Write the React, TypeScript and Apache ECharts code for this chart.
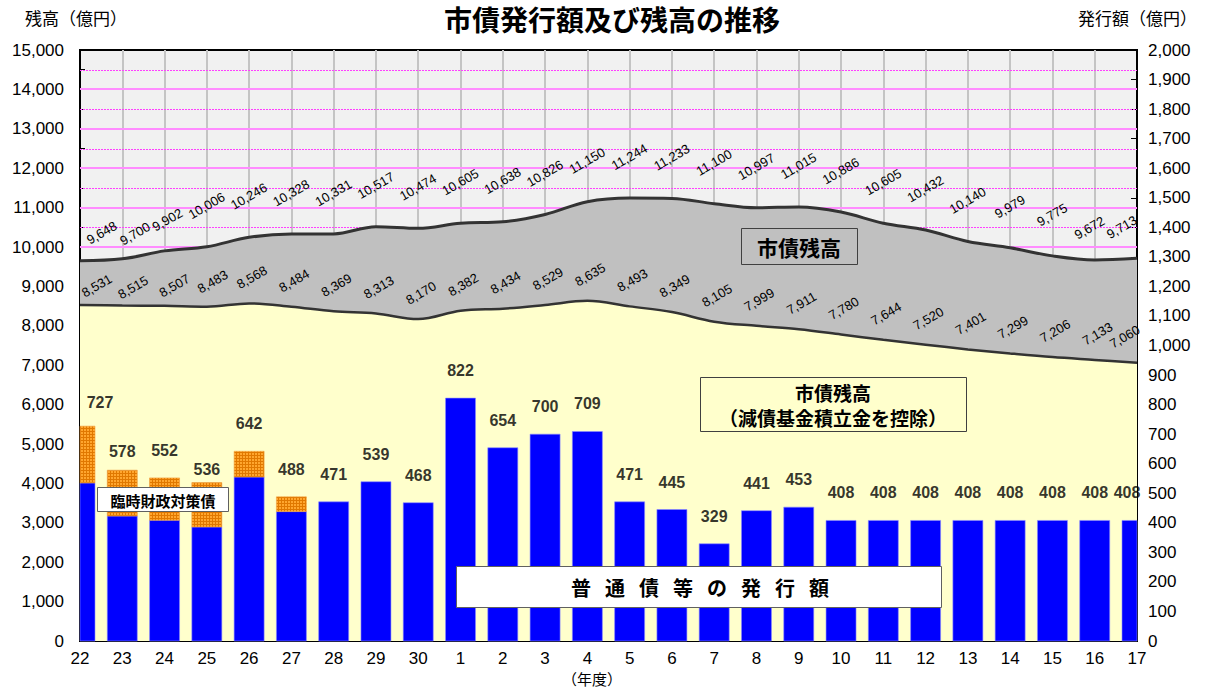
import React, { useEffect, useRef } from "react";
import * as echarts from "echarts";

const years = ["22", "23", "24", "25", "26", "27", "28", "29", "30", "1", "2", "3", "4", "5", "6", "7", "8", "9", "10", "11", "12", "13", "14", "15", "16", "17"];
// 市債残高
const balance = [9648, 9700, 9902, 10006, 10246, 10328, 10331, 10517, 10474, 10605, 10638, 10826, 11150, 11244, 11233, 11100, 10997, 11015, 10886, 10605, 10432, 10140, 9979, 9775, 9672, 9713];
// 市債残高（減債基金積立金を控除）
const balanceNet = [8531, 8515, 8507, 8483, 8568, 8484, 8369, 8313, 8170, 8382, 8434, 8529, 8635, 8493, 8349, 8105, 7999, 7911, 7780, 7644, 7520, 7401, 7299, 7206, 7133, 7060];
// 発行額 合計
const issueTotal = [727, 578, 552, 536, 642, 488, 471, 539, 468, 822, 654, 700, 709, 471, 445, 329, 441, 453, 408, 408, 408, 408, 408, 408, 408, 408];
// 普通債等の発行額
const issueRegular = [535, 423, 409, 386, 555, 438, 471, 539, 468, 822, 654, 700, 709, 471, 445, 329, 441, 453, 408, 408, 408, 408, 408, 408, 408, 408];
// 臨時財政対策債
const issueRinji = issueTotal.map((t, i) => t - issueRegular[i]);
// horizontal grid lines of the left axis (solid at thousands, dotted at half-thousands)
const gridLevels = [500, 1000, 1500, 2000, 2500, 3000, 3500, 4000, 4500, 5000, 5500, 6000, 6500, 7000, 7500, 8000, 8500, 9000, 9500, 10000, 10500, 11000, 11500, 12000, 12500, 13000, 13500, 14000, 14500];

const CJK = '"Noto Sans CJK JP", sans-serif';
const NUM = '"Liberation Sans", Arial, sans-serif';
const BAR_W = 30;
const ROT = 30;

export default function App() {
  const ref = useRef<HTMLDivElement>(null);
  useEffect(() => {
    if (!ref.current) return;
    const chart = echarts.init(ref.current, null, { renderer: "svg" });
    const fmt = (v: number) => v.toLocaleString("en-US");

    // dotted texture for 臨時財政対策債
    const cv = document.createElement("canvas");
    cv.width = 3;
    cv.height = 3;
    const cx = cv.getContext("2d");
    let orangeFill: any = "#EE8400";
    if (cx) {
      cx.fillStyle = "#E07800";
      cx.fillRect(0, 0, 3, 3);
      cx.fillStyle = "#FFA62E";
      cx.fillRect(0, 0, 2, 2);
      orangeFill = { image: cv.toDataURL(), repeat: "repeat" };
    }

    // label offsets are applied in the rotated frame: convert screen shifts
    const rad = (ROT * Math.PI) / 180;
    const toLocal = (s: number[]) => [
      s[0] * Math.cos(rad) - s[1] * Math.sin(rad),
      s[0] * Math.sin(rad) + s[1] * Math.cos(rad),
    ];

    const lineLabel = (dist: number, base: number[]) => ({
      show: true,
      position: "top",
      distance: dist,
      rotate: ROT,
      offset: toLocal(base),
      fontSize: 13,
      fontFamily: NUM,
      color: "#000",
      formatter: (p: any) => fmt(Array.isArray(p.value) ? p.value[1] : p.value),
    });
    const upperNudge: Record<number, number[]> = { 0: [25, 13], 1: [16, 16], 2: [6, 10], 24: [-2, 9], 25: [-12, 10] };
    const lowerNudge: Record<number, number[]> = { 0: [20, 7], 1: [14, 8], 2: [13, 6], 3: [9, 1], 25: [-9, 0] };
    const nudged = (arr: number[], nudges: Record<number, number[]>) =>
      arr.map((v, i) => (nudges[i] ? { value: v, label: { offset: toLocal(nudges[i]) } } : v));

    const barRender = (fill: any, stroke: string) => (params: any, api: any) => {
      const i = api.value(0);
      const lo = api.value(1);
      const hi = api.value(2);
      if (hi - lo <= 0) return null;
      const p1 = api.coord([i, lo]);
      const p2 = api.coord([i, hi]);
      const rect = { x: p1[0] - BAR_W / 2, y: p2[1], width: BAR_W, height: p1[1] - p2[1] };
      const cs = params.coordSys;
      const clipped = echarts.graphic.clipRectByRect(rect, { x: cs.x, y: cs.y, width: cs.width, height: cs.height });
      if (!clipped) return null;
      return {
        type: "rect",
        shape: clipped,
        style: { fill, stroke, lineWidth: 0.6 },
      };
    };

    const gridRender = (params: any, api: any) => {
      const v = api.value(0);
      const cs = params.coordSys;
      const major = v % 1000 === 0;
      const yRaw = api.coord([0, v])[1];
      const y = major ? Math.round(yRaw) : Math.round(yRaw) + 0.5;
      return {
        type: "line",
        shape: { x1: cs.x, y1: y, x2: cs.x + cs.width, y2: y },
        style: major
          ? { stroke: "#FF8CFF", lineWidth: 2 }
          : { stroke: "#FF40FF", lineWidth: 1, lineDash: [2, 1] },
      };
    };

    const regularData = issueRegular.map((v, i) => [i, 0, v]);
    const rinjiData = issueRinji.map((v, i) => [i, issueRegular[i], issueRegular[i] + v]);
    const totalNudge: Record<number, number[]> = { 0: [20, 4], 1: [0, 9], 3: [0, 14], 25: [-10, 0] };
    const totalData = issueTotal.map((v, i) => (totalNudge[i] ? { value: v, label: { offset: totalNudge[i] } } : v));

    const option: any = {
      animation: false,
      backgroundColor: "#fff",
      grid: {
        left: 80,
        right: 70,
        top: 50,
        bottom: 48,
        show: true,
        backgroundColor: "#F1F1F1",
        borderColor: "#000",
        borderWidth: 2,
      },
      xAxis: [
        {
          type: "category",
          data: years,
          boundaryGap: false,
          axisLine: { show: true, onZero: false, lineStyle: { color: "#000", width: 2 } },
          axisTick: { show: false },
          axisLabel: { fontSize: 17, fontFamily: NUM, color: "#000", margin: 9 },
          splitLine: { show: true, lineStyle: { color: "#444", width: 1 } },
        },
        {
          type: "value",
          min: -1,
          max: 49,
          interval: 2,
          position: "top",
          axisLine: { show: false, onZero: false },
          axisTick: { show: false },
          axisLabel: { show: false },
          splitLine: { show: true, lineStyle: { color: "#C4C4C4", width: 2 } },
        },
      ],
      yAxis: [
        {
          type: "value",
          min: 0,
          max: 15000,
          interval: 1000,
          axisLine: { show: true, onZero: false, lineStyle: { color: "#000", width: 2 } },
          axisTick: { show: true, inside: true, length: 5, lineStyle: { color: "#000" } },
          minorTick: { show: true, splitNumber: 2, length: 5, lineStyle: { color: "#000" } },
          axisLabel: { fontSize: 17, fontFamily: NUM, color: "#000", margin: 16, formatter: fmt },
          splitLine: { show: false },
          minorSplitLine: { show: false },
        },
        {
          type: "value",
          min: 0,
          max: 2000,
          interval: 100,
          position: "right",
          axisLine: { show: true, onZero: false, lineStyle: { color: "#000", width: 2 } },
          axisTick: { show: true, inside: true, length: 6, lineStyle: { color: "#000" } },
          axisLabel: { fontSize: 17, fontFamily: NUM, color: "#000", margin: 11, formatter: fmt },
          splitLine: { show: false },
          minorSplitLine: { show: false },
        },
      ],
      series: [
        {
          name: "grid",
          type: "custom",
          data: gridLevels.map((v) => [v]),
          encode: { y: 0 },
          renderItem: gridRender,
          silent: true,
          z: 1,
        },
        {
          name: "市債残高",
          type: "line",
          data: nudged(balance, upperNudge),
          smooth: 0.35,
          symbol: "circle",
          symbolSize: 1,
          itemStyle: { color: "rgba(0,0,0,0)" },
          lineStyle: { color: "#333", width: 3 },
          areaStyle: { color: "#C0C0C0", opacity: 1 },
          label: lineLabel(35, [3, 0]),
          z: 2,
        },
        {
          name: "市債残高（減債基金積立金を控除）",
          type: "line",
          data: nudged(balanceNet, lowerNudge),
          smooth: 0.35,
          symbol: "circle",
          symbolSize: 1,
          itemStyle: { color: "rgba(0,0,0,0)" },
          lineStyle: { color: "#333", width: 2.5 },
          areaStyle: { color: "#FFFFCC", opacity: 1 },
          label: lineLabel(20, [6, 0]),
          z: 3,
        },
        {
          name: "普通債等",
          type: "custom",
          yAxisIndex: 1,
          data: regularData,
          encode: { x: 0, y: [1, 2] },
          renderItem: barRender("#0000FF", "#8C8CFF"),
          z: 4,
        },
        {
          name: "臨時財政対策債",
          type: "custom",
          yAxisIndex: 1,
          data: rinjiData,
          encode: { x: 0, y: [1, 2] },
          renderItem: barRender(orangeFill, "#F0A040"),
          z: 5,
        },
        {
          name: "発行額",
          type: "scatter",
          yAxisIndex: 1,
          data: totalData,
          symbol: "circle",
          symbolSize: 1,
          clip: false,
          itemStyle: { color: "rgba(0,0,0,0)" },
          label: {
            show: true,
            position: "top",
            distance: 19,
            fontSize: 16,
            fontWeight: "bold",
            fontFamily: NUM,
            color: "#000",
            formatter: (p: any) => String(p.value),
          },
          z: 6,
        },
      ],
      graphic: [
        {
          type: "text",
          x: 612,
          y: 19,
          style: { text: "市債発行額及び残高の推移", font: `bold 28px ${CJK}`, fill: "#000", align: "center", verticalAlign: "middle" },
          z: 100,
        },
        {
          type: "text",
          x: 25,
          y: 17,
          style: { text: "残高（億円）", font: `17px ${CJK}`, fill: "#000", align: "left", verticalAlign: "middle" },
          z: 100,
        },
        {
          type: "text",
          x: 1197,
          y: 17,
          style: { text: "発行額（億円）", font: `17px ${CJK}`, fill: "#000", align: "right", verticalAlign: "middle" },
          z: 100,
        },
        {
          type: "text",
          x: 592,
          y: 678,
          style: { text: "（年度）", font: `15px ${CJK}`, fill: "#000", align: "center", verticalAlign: "middle" },
          z: 100,
        },
        {
          type: "rect",
          shape: { x: 741.5, y: 228.5, width: 116, height: 36 },
          style: { fill: "#C0C0C0", stroke: "#404040", lineWidth: 1 },
          z: 100,
        },
        {
          type: "text",
          x: 799,
          y: 247,
          style: { text: "市債残高", font: `bold 21px ${CJK}`, fill: "#000", align: "center", verticalAlign: "middle" },
          z: 101,
        },
        {
          type: "rect",
          shape: { x: 700.5, y: 377.5, width: 266, height: 54 },
          style: { fill: "#FFFFCC", stroke: "#404040", lineWidth: 1 },
          z: 100,
        },
        {
          type: "text",
          x: 833,
          y: 392,
          style: { text: "市債残高", font: `bold 19px ${CJK}`, fill: "#000", align: "center", verticalAlign: "middle" },
          z: 101,
        },
        {
          type: "text",
          x: 833,
          y: 417,
          style: { text: "（減債基金積立金を控除）", font: `bold 19px ${CJK}`, fill: "#000", align: "center", verticalAlign: "middle" },
          z: 101,
        },
        {
          type: "rect",
          shape: { x: 97.5, y: 487.5, width: 131, height: 24 },
          style: { fill: "#FFFFFF", stroke: "#606060", lineWidth: 1 },
          z: 100,
        },
        {
          type: "text",
          x: 163,
          y: 500,
          style: { text: "臨時財政対策債", font: `bold 15px ${CJK}`, fill: "#000", align: "center", verticalAlign: "middle" },
          z: 101,
        },
        {
          type: "rect",
          shape: { x: 456.5, y: 566.5, width: 485, height: 41 },
          style: { fill: "#FFFFFF", stroke: "#606060", lineWidth: 1 },
          z: 100,
        },
        {
          type: "text",
          x: 700,
          y: 587,
          style: {
            text: "普{s|　}通{s|　}債{s|　}等{s|　}の{s|　}発{s|　}行{s|　}額",
            font: `bold 20px ${CJK}`,
            fill: "#000",
            align: "center",
            verticalAlign: "middle",
            rich: { s: { fontSize: 14, fontFamily: CJK } },
          },
          z: 101,
        },
      ],
    };
    chart.setOption(option);
    return () => chart.dispose();
  }, []);
  return <div ref={ref} style={{ width: 1207, height: 689, position: "absolute", left: 0, top: 0 }} />;
}
